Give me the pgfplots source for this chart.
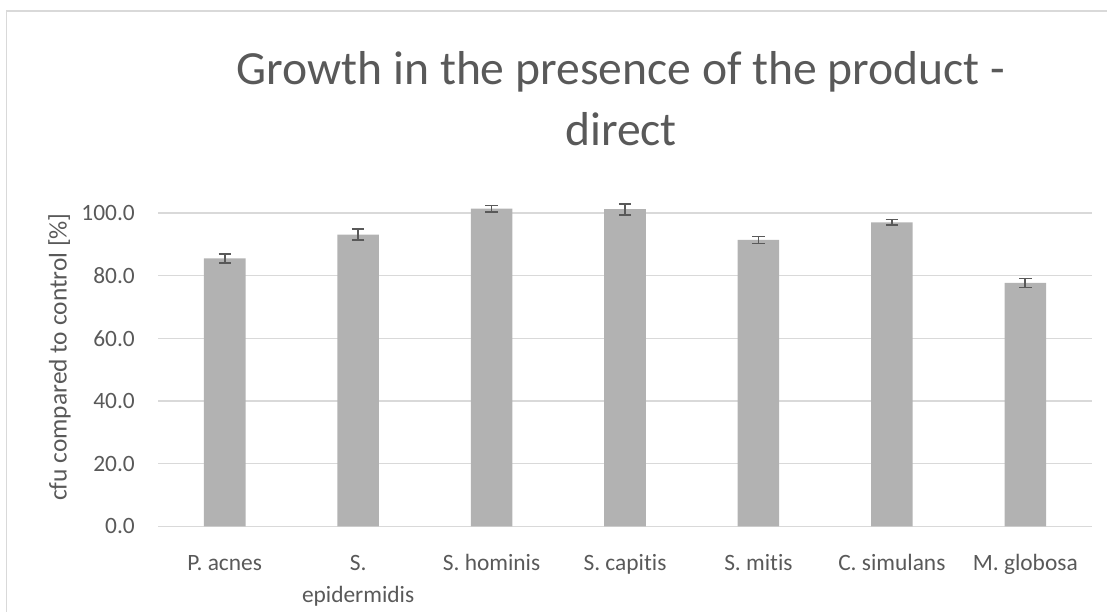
\documentclass[border=0pt]{standalone}
\usepackage{fontspec}
\setmainfont{Carlito}[Ligatures=NoCommon]
\usepackage{pgfplots}
\pgfplotsset{compat=1.18}
\definecolor{bargray}{RGB}{178,178,178}
\definecolor{txtgray}{RGB}{89,89,89}
\definecolor{gridgray}{RGB}{217,217,217}
\definecolor{errgray}{RGB}{89,89,89}
\newcommand{\st}{\rule{0pt}{18bp}}
\begin{document}
\begin{tikzpicture}[x=1bp,y=1bp]
\useasboundingbox (0,0) rectangle (1107,612);
\draw[gridgray, line width=1.3bp] (6.8,0) -- (6.8,601) -- (1107,601);
\node[anchor=base, txtgray, font=\fontsize{47.6bp}{57bp}\selectfont, inner sep=0pt] at (621,527.5) {Growth in the presence of the product -};
\node[anchor=base, txtgray, font=\fontsize{47.6bp}{57bp}\selectfont, inner sep=0pt] at (621,466.4) {direct};
\node[rotate=90, txtgray, font=\fontsize{25.4bp}{30bp}\selectfont, inner sep=0pt] at (59.5,255) {cfu compared to control [\%]};
\begin{axis}[
  at={(158bp,85.5bp)}, anchor=south west,
  scale only axis, width=934bp, height=313.5bp,
  xmin=-0.5, xmax=6.5, ymin=0, ymax=100,
  clip=false,
  axis line style={draw=none},
  major tick length=0pt,
  xtick={0,1,2,3,4,5,6},
  xticklabels={\st P. acnes, {\st S.\\epidermidis}, \st S. hominis, \st S. capitis, \st S. mitis, \st C. simulans, \st M. globosa},
  ytick={0,20,40,60,80,100},
  yticklabel={\pgfmathprintnumber[fixed,fixed zerofill,precision=1]{\tick}},
  /pgf/number format/assume math mode=true,
  ymajorgrids, grid style={gridgray, line width=1.3bp},
  tick label style={txtgray, font=\fontsize{23.4bp}{32bp}\selectfont},
  yticklabel style={anchor=east, inner sep=0pt, xshift=-23bp},
  xticklabel style={anchor=north, inner sep=0pt, yshift=-26.3bp, align=center},
]
\addplot[ybar, bar width=41.6bp, fill=bargray, draw=none,
  error bars/.cd, y dir=both, y explicit,
  error bar style={errgray, line width=1.7bp},
  error mark options={errgray, line width=1.7bp, mark size=6.2bp, rotate=90}]
  coordinates {
  (0,85.5) +- (0,1.4)
  (1,93.1) +- (0,1.7)
  (2,101.4) +- (0,1.0)
  (3,101.2) +- (0,1.75)
  (4,91.4) +- (0,1.1)
  (5,97.0) +- (0,0.9)
  (6,77.7) +- (0,1.45)
  };
\end{axis}
\end{tikzpicture}
\end{document}
